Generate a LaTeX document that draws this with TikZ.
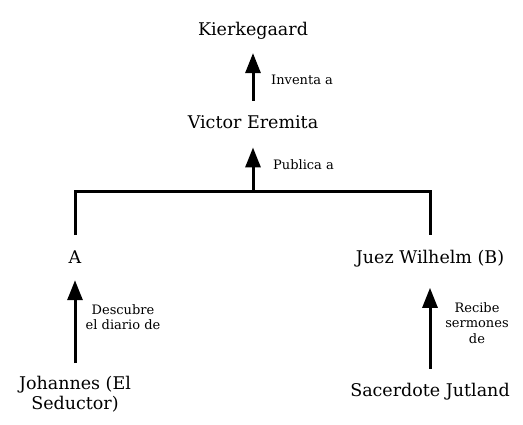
\documentclass[tikz,border=0pt]{standalone}
\usepackage{fontspec}
\setmainfont{DejaVu Serif}
\usetikzlibrary{arrows.meta}
\tikzset{
	nm/.style={inner sep=0pt, font=\fontsize{17.5}{20}\selectfont, align=center},
	lbl/.style={inner sep=0pt, font=\fontsize{13}{15.5}\selectfont, align=center},
	wire/.style={line width=3pt},
	arr/.style={line width=3pt, -{Triangle[length=20pt,width=15pt]}},
}

\begin{document}
\begin{tikzpicture}[x=1pt,y=-1pt]
	\useasboundingbox (0,0) rectangle (523,424);

	\node [nm, anchor=base] (kierk) at (253,35) {Kierkegaard};
	\node [nm, anchor=base] (victor) at (253,128) {Victor Eremita};
	\node [nm, anchor=base] (a) at (75,263) {A};
	\node [nm, anchor=base] (juez) at (430,263) {Juez Wilhelm (B)};
	\node [nm, anchor=north] (johannes) at (75,376) {Johannes (El\\Seductor)};
	\node [nm, anchor=base] (sacerdote) at (430,396) {Sacerdote Jutland};

	\node [lbl, anchor=base west] (inventa) at (271,84) {Inventa a};
	\node [lbl, anchor=base west] (publica) at (273,169) {Publica a};
	\node [lbl] (descubre) at (123,317) {Descubre\\el diario de};
	\node [lbl] (recibe) at (477,323) {Recibe\\sermones\\de};

	\coordinate (fork) at (253,191);

	\draw [arr, shorten <=14pt, shorten >=14pt] (victor.north) -- (kierk.south);
	\draw [arr, shorten >=19pt] (fork) -- (victor.south);
	\draw [wire] ([yshift=15pt]a.north) |- (fork) -| ([yshift=15pt]juez.north);
	\draw [arr, shorten <=13pt, shorten >=17pt] (johannes.north) -- (a.south);
	\draw [arr, shorten <=14pt, shorten >=21pt] (sacerdote.north) -- (juez.south);
\end{tikzpicture}
\end{document}
